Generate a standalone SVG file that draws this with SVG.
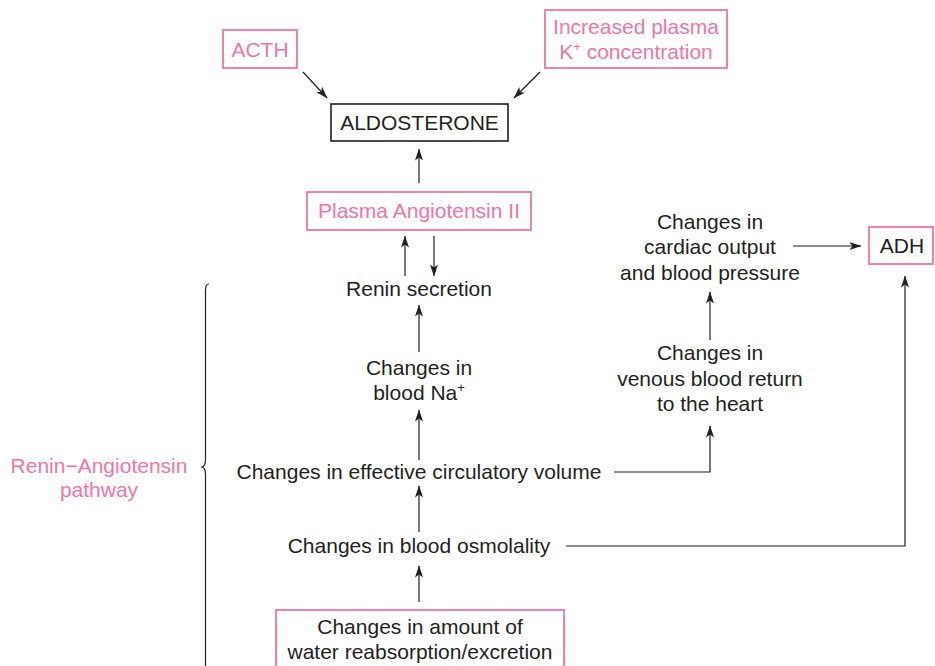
<svg xmlns="http://www.w3.org/2000/svg" width="935" height="666" viewBox="0 0 935 666">
  <defs>
    <marker id="arrow" viewBox="0 0 12 8" refX="11.5" refY="4" markerWidth="12" markerHeight="8" markerUnits="userSpaceOnUse" orient="auto">
      <path d="M0,0 L12,4 L0,8 L3,4 z" fill="#231f20"/>
    </marker>
    <style>
      text { font-family: "Liberation Sans", Arial, sans-serif; font-size: 21px; fill: #231f20; text-anchor: middle; }
      .pink { fill: #ef75a8; }
      .pbox { fill: none; stroke: #ef75a8; stroke-width: 1.8; }
      .kbox { fill: none; stroke: #231f20; stroke-width: 1.6; }
      .conn line, .conn polyline, .conn path { fill: none; stroke: #231f20; stroke-width: 1.2; }
      .arr { marker-end: url(#arrow); }
      .sup { font-size: 13px; }
    </style>
  </defs>
  <rect width="935" height="666" fill="#ffffff"/>

  <!-- connectors -->
  <g id="connectors" class="conn">
    <line class="arr" x1="303" y1="72" x2="327" y2="98"/>
    <line class="arr" x1="540" y1="72" x2="514" y2="98"/>
    <line class="arr" x1="419" y1="183" x2="419" y2="149"/>
    <line class="arr" x1="405" y1="276" x2="405" y2="236"/>
    <line class="arr" x1="434" y1="236" x2="434" y2="276"/>
    <line class="arr" x1="419" y1="352" x2="419" y2="305"/>
    <line class="arr" x1="419" y1="460" x2="419" y2="410"/>
    <line class="arr" x1="419" y1="532" x2="419" y2="486"/>
    <line class="arr" x1="419" y1="602" x2="419" y2="566"/>
    <polyline class="arr" points="614,472 710,472 710,426"/>
    <line class="arr" x1="710" y1="340" x2="710" y2="292"/>
    <line class="arr" x1="793" y1="246" x2="861" y2="246"/>
    <polyline class="arr" points="566,546 905,546 905,276"/>
    <!-- brace spanning the renin-angiotensin steps -->
    <path d="M209,284 Q205.5,284 205.5,290 L205.5,460 Q205.5,466 202,467 Q205.5,468 205.5,474 L205.5,666"/>
  </g>

  <g id="acth">
    <rect class="pbox" x="223" y="30" width="74" height="38"/>
    <text class="pink" x="260" y="57">ACTH</text>
  </g>

  <g id="potassium">
    <rect class="pbox" x="545" y="10" width="182" height="58"/>
    <text class="pink" x="636" y="34">Increased plasma</text>
    <text class="pink" x="636" y="59">K<tspan class="sup" dy="-8">+</tspan><tspan dy="8"> concentration</tspan></text>
  </g>

  <g id="aldosterone">
    <rect class="kbox" x="331" y="104" width="177" height="37"/>
    <text x="419.5" y="130">ALDOSTERONE</text>
  </g>

  <g id="angiotensin">
    <rect class="pbox" x="307" y="192" width="224" height="38"/>
    <text class="pink" x="419" y="218">Plasma Angiotensin II</text>
  </g>

  <g id="renin">
    <text x="419" y="296">Renin secretion</text>
  </g>

  <g id="sodium">
    <text x="419" y="375">Changes in</text>
    <text x="419" y="400">blood Na<tspan class="sup" dy="-8">+</tspan></text>
  </g>

  <g id="circulatory-volume">
    <text x="419" y="479">Changes in effective circulatory volume</text>
  </g>

  <g id="osmolality">
    <text x="419" y="553">Changes in blood osmolality</text>
  </g>

  <g id="water">
    <rect class="pbox" x="276" y="610" width="288" height="60"/>
    <text x="420" y="634">Changes in amount of</text>
    <text x="420" y="659">water reabsorption/excretion</text>
  </g>

  <g id="venous-return">
    <text x="710" y="360">Changes in</text>
    <text x="710" y="386">venous blood return</text>
    <text x="710" y="411">to the heart</text>
  </g>

  <g id="cardiac-output">
    <text x="710" y="229">Changes in</text>
    <text x="710" y="254">cardiac output</text>
    <text x="710" y="280">and blood pressure</text>
  </g>

  <g id="adh">
    <rect class="pbox" x="869" y="227" width="64" height="37"/>
    <text x="902" y="253">ADH</text>
  </g>

  <g id="pathway-label">
    <text class="pink" x="99" y="473">Renin−Angiotensin</text>
    <text class="pink" x="99" y="497">pathway</text>
  </g>
</svg>
